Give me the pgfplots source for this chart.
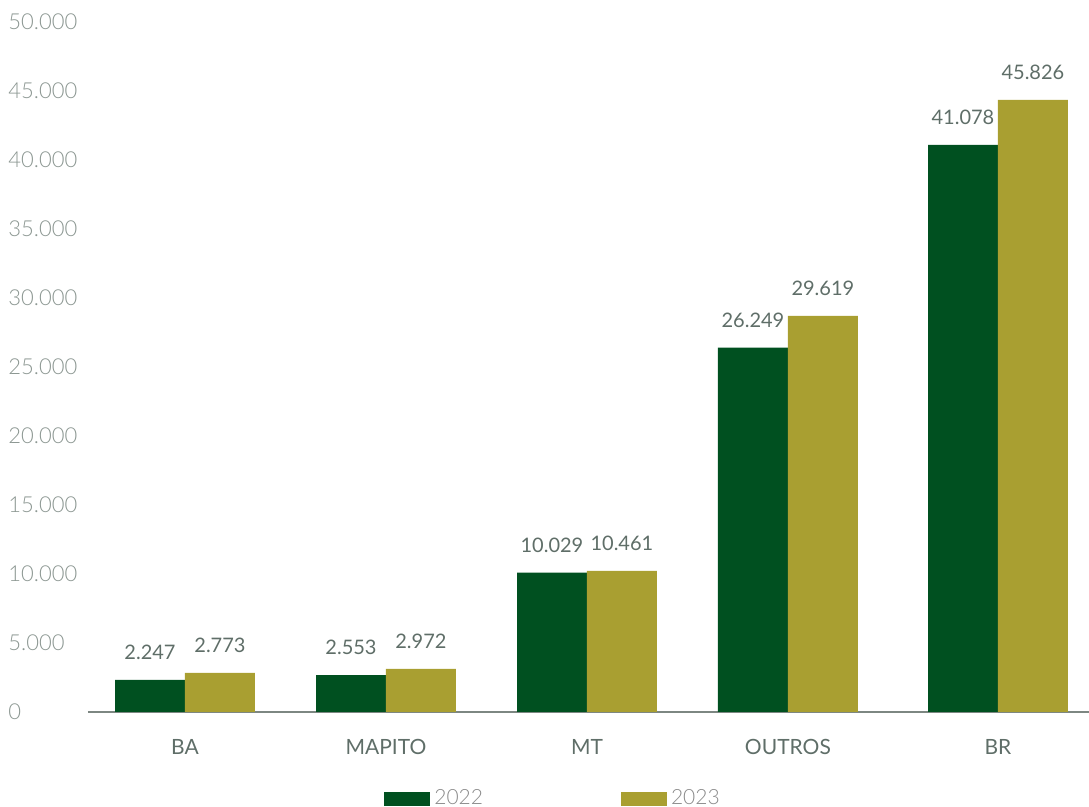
\documentclass[border=0pt]{standalone}
\usepackage{pgfplots}
\pgfplotsset{compat=1.18}
\usepackage{fontspec}
\setmainfont{Lato}
\IfFontExistsTF{Lato Light}{\newfontfamily\lightfont{Lato Light}}{\newfontfamily\lightfont{Lato}}
\definecolor{cA}{HTML}{005020}
\definecolor{cB}{HTML}{A99F31}
\definecolor{tickc}{HTML}{8C9792}
\definecolor{labc}{HTML}{5F6E68}
\definecolor{axisc}{HTML}{7D8782}
\definecolor{legc}{HTML}{8A8A8A}
\begin{document}
\begin{tikzpicture}
\path[use as bounding box] (-44pt,-47.5pt) rectangle (500.5pt,356pt);
\begin{axis}[
  scale only axis, width=500.5pt, height=345pt,
  xmin=-0.4826, xmax=4.498, ymin=0, ymax=50000,
  ybar=0pt, bar width=0.348,
  axis x line*=bottom, axis y line*=left,
  y axis line style={draw=none},
  x axis line style={draw=axisc, line width=1pt, -},
  major tick length=0pt,
  xtick={0,1,2,3,4.045}, xticklabels={BA,MAPITO,MT,OUTROS,BR},
  xticklabel style={font=\fontsize{10.5}{12}\selectfont, text=labc, anchor=base, yshift=-21.5pt},
  ytick={0,5000,...,50000},
  scaled y ticks=false,
  /pgf/number format/1000 sep={.},
  /pgf/number format/assume math mode=true,
  yticklabel style={font=\lightfont\fontsize{11}{13}\selectfont, text=tickc, anchor=west, inner sep=0pt, xshift=-40pt},
  nodes near coords, point meta=explicit,
  every node near coord/.append style={font=\fontsize{10}{12}\selectfont, text=labc, anchor=south, inner sep=0pt, yshift=10pt},
  legend columns=2,
  legend style={draw=none, fill=none, at={(0.4596,0)}, anchor=south, xshift=3pt, yshift=-50pt, inner sep=0pt,
    font=\lightfont\fontsize{10.5}{12}\selectfont, text=legc,
    /tikz/every even column/.append style={column sep=67pt}},
]
\addplot[fill=cA, draw=none, legend image code/.code={\fill[cA] (0pt,-3.5pt) rectangle (23pt,3.5pt);}]
  table[x=x, y=y, meta=m] {
x y m
0 2320 2247
1 2680 2553
2 10100 10029
3 26400 26249
4.045 41090 41078
};
\addplot[fill=cB, draw=none, legend image code/.code={\fill[cB] (0pt,-3.5pt) rectangle (23pt,3.5pt);}]
  table[x=x, y=y, meta=m] {
x y m
0 2830 2773
1 3120 2972
2 10220 10461
3 28700 29619
4.045 44350 45826
};
\legend{2022,2023}
\end{axis}
\end{tikzpicture}
\end{document}
